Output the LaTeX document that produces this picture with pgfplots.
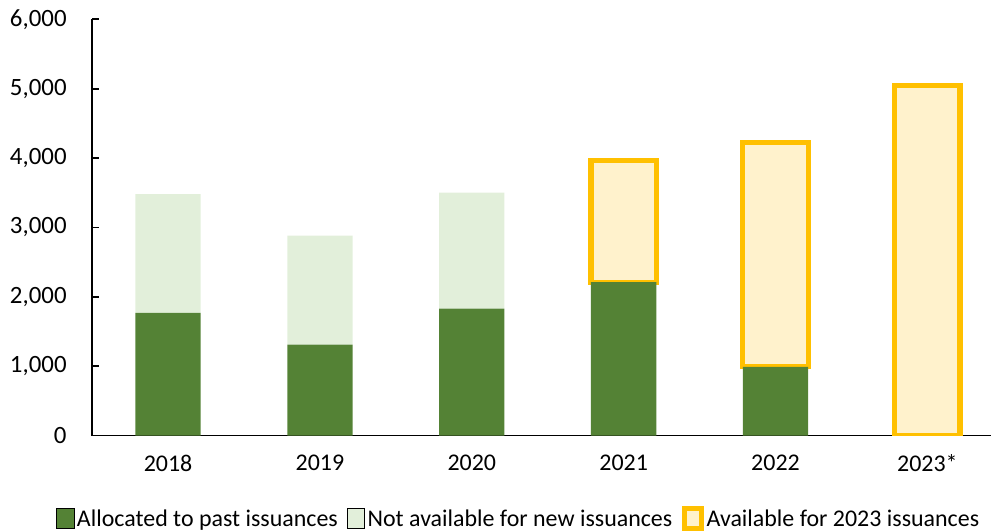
\documentclass[border=0pt]{standalone}
\usepackage{pgfplots}
\pgfplotsset{compat=1.18}
\usepackage{fontspec}
\setmainfont{Carlito}
\definecolor{darkgreen}{HTML}{548235}
\definecolor{lightgreen}{HTML}{E2EFDA}
\definecolor{gold}{HTML}{FFC000}
\definecolor{cream}{HTML}{FFF2CC}
\begin{document}
\begin{tikzpicture}
\begin{axis}[
    scale only axis,
    width=676pt, height=313pt,
    ybar stacked,
    bar width=0.43,
    xmin=-0.5, xmax=5.42,
    ymin=0, ymax=6000,
    xtick={0,1,2,3,4,5},
    xticklabels={2018,2019,2020,2021,2022,2023*},
    ytick={0,1000,...,6000},
    axis x line=bottom, axis y line=left,
    axis line style={line width=1.3pt, -},
    x tick style={draw=none},
    y tick style={line width=1.3pt, black},
    tick align=inside,
    major tick length=5pt,
    /pgf/number format/assume math mode=true,
    /pgf/number format/1000 sep={,},
    xticklabel style={font=\fontsize{18}{20}\selectfont, yshift=-11pt},
    yticklabel style={font=\fontsize{18.7}{20}\selectfont, inner xsep=7.5pt, inner ysep=7pt, xshift=-11.5pt},
    legend style={at={(0.475,-0.2)}, anchor=center, draw=none, inner ysep=0pt,
        legend columns=3, font=\fontsize{18}{20}\selectfont,
        /tikz/every even column/.append style={column sep=5pt}},
    legend image code/.code={\draw[#1] (0pt,-7pt) rectangle (13pt,8pt);},
]
\addplot[fill=darkgreen, draw=none] coordinates {(0,1770) (1,1310) (2,1830) (3,2210) (4,990) (5,0)};
\addlegendentry{Allocated to past issuances}
\addplot[fill=lightgreen, draw=none] coordinates {(0,1710) (1,1570) (2,1670) (3,0) (4,0) (5,0)};
\addlegendentry{Not available for new issuances}
\addplot[fill=cream, draw=gold, line width=3.8pt] coordinates {(0,0) (1,0) (2,0) (3,1750) (4,3230) (5,5040)};
\addlegendentry{Available for 2023 issuances}
\end{axis}
\end{tikzpicture}
\end{document}
